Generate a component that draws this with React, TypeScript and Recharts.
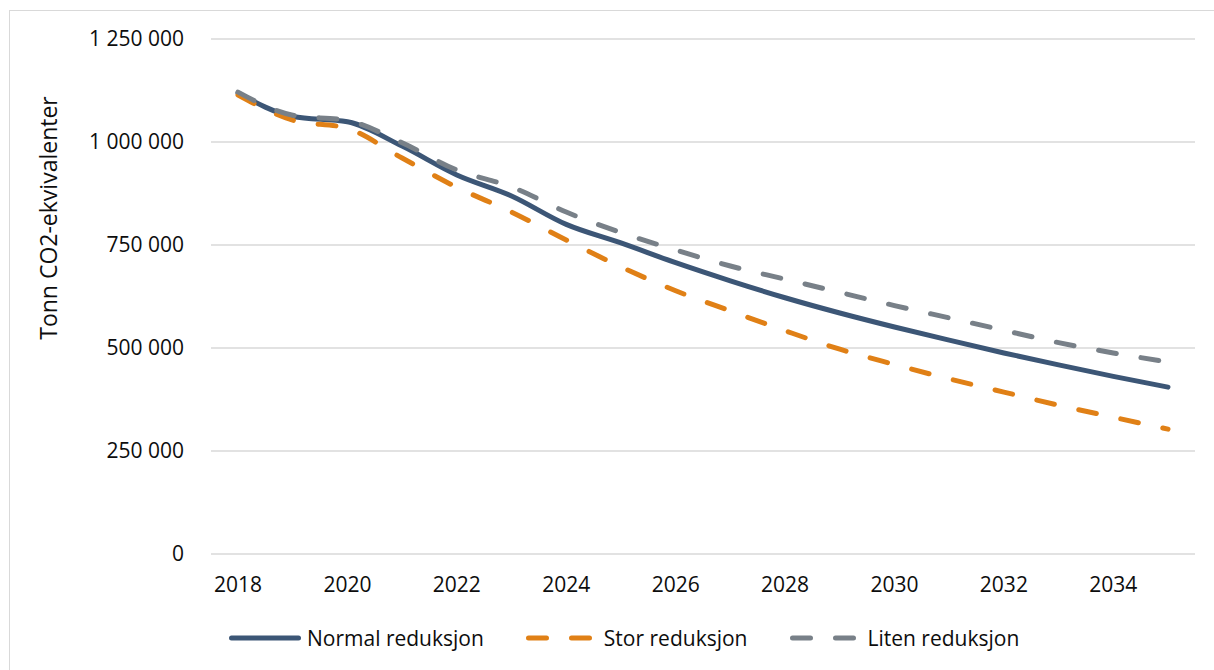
import { CartesianGrid, Legend, Line, LineChart, XAxis, YAxis } from "recharts";

const years = [
  "2018", "2019", "2020", "2021", "2022", "2023", "2024", "2025", "2026",
  "2027", "2028", "2029", "2030", "2031", "2032", "2033", "2034", "2035",
];

// Tonn CO2-ekvivalenter per år
const normalReduksjon = [
  1119000, 1062000, 1049000, 990000, 920000, 869000, 800000, 755000, 707000,
  663000, 622000, 585000, 551000, 519000, 488000, 459000, 431000, 405000,
];
const storReduksjon = [
  1114000, 1053000, 1033000, 961000, 890000, 830000, 762000, 697000, 639000,
  590000, 542000, 497000, 460000, 425000, 393000, 361000, 332000, 303000,
];
const litenReduksjon = [
  1121000, 1065000, 1052000, 998000, 932000, 891000, 830000, 780000, 738000,
  699000, 667000, 635000, 603000, 573000, 543000, 513000, 488000, 466000,
];

const yTicks = [0, 250000, 500000, 750000, 1000000, 1250000];

const series = [
  { key: "normal", name: "Normal reduksjon", color: "#3C5676", dashed: false },
  { key: "stor", name: "Stor reduksjon", color: "#E08016", dashed: true },
  { key: "liten", name: "Liten reduksjon", color: "#788088", dashed: true },
];

const data = years.map((year, i) => ({
  year,
  normal: normalReduksjon[i],
  stor: storReduksjon[i],
  liten: litenReduksjon[i],
}));

const FONT = "'Open Sans', 'Noto Sans', sans-serif";
const DASH = "18 25";
const TEXT = "#0d0d0d";

function formatThousands(v: number): string {
  return String(v).replace(/\B(?=(\d{3})+(?!\d))/g, " ");
}

function LegendRow() {
  return (
    <div style={{ display: "flex", alignItems: "center", gap: 42, height: 30, fontFamily: FONT }}>
      {series.map((s) => (
        <div key={s.key} style={{ display: "flex", alignItems: "center" }}>
          <svg width={72} height={10}>
            <line
              x1={2.5}
              y1={5}
              x2={s.dashed ? 68 : 69.5}
              y2={5}
              stroke={s.color}
              strokeWidth={5}
              strokeLinecap="round"
              strokeDasharray={s.dashed ? DASH : undefined}
            />
          </svg>
          <span style={{ marginLeft: 6, fontSize: 21, color: TEXT, whiteSpace: "nowrap" }}>
            {s.name}
          </span>
        </div>
      ))}
    </div>
  );
}

export default function App() {
  return (
    <div
      style={{
        position: "absolute",
        left: 9,
        top: 10,
        width: 1220,
        height: 680,
        borderTop: "1px solid #d9d9d9",
        borderLeft: "1px solid #d9d9d9",
        background: "#fff",
      }}
    >
      <LineChart
        width={1200}
        height={660}
        data={data}
        margin={{ top: 28, right: 15, bottom: 57, left: 0 }}
      >
        <CartesianGrid vertical={false} stroke="#d9d9d9" strokeWidth={1.5} />
        <XAxis
          dataKey="year"
          interval={1}
          padding={{ left: 27, right: 27 }}
          axisLine={false}
          tickLine={false}
          tickSize={0}
          tickMargin={23}
          height={60}
          tick={{ fontFamily: FONT, fontSize: 21, fill: TEXT }}
        />
        <YAxis
          width={201}
          domain={[0, 1250000]}
          ticks={yTicks}
          tickFormatter={formatThousands}
          axisLine={false}
          tickLine={false}
          tickSize={0}
          tickMargin={27}
          tick={{ fontFamily: FONT, fontSize: 21, fill: TEXT }}
          label={{
            content: () => (
              <text
                x={38}
                y={207}
                transform="rotate(-90 38 207)"
                textAnchor="middle"
                dominantBaseline="central"
                fontFamily={FONT}
                fontSize={23}
                fill={TEXT}
              >
                Tonn CO2-ekvivalenter
              </text>
            ),
          }}
        />
        <Legend
          verticalAlign="middle"
          align="center"
          layout="horizontal"
          content={() => <LegendRow />}
          wrapperStyle={{ top: 612, left: 219, width: 900, height: 30 }}
        />
        {series.map((s) => (
          <Line
            key={s.key}
            dataKey={s.key}
            name={s.name}
            type="monotone"
            stroke={s.color}
            strokeWidth={5}
            strokeLinecap="round"
            strokeDasharray={s.dashed ? DASH : undefined}
            dot={false}
            activeDot={false}
            isAnimationActive={false}
          />
        ))}
      </LineChart>
    </div>
  );
}
